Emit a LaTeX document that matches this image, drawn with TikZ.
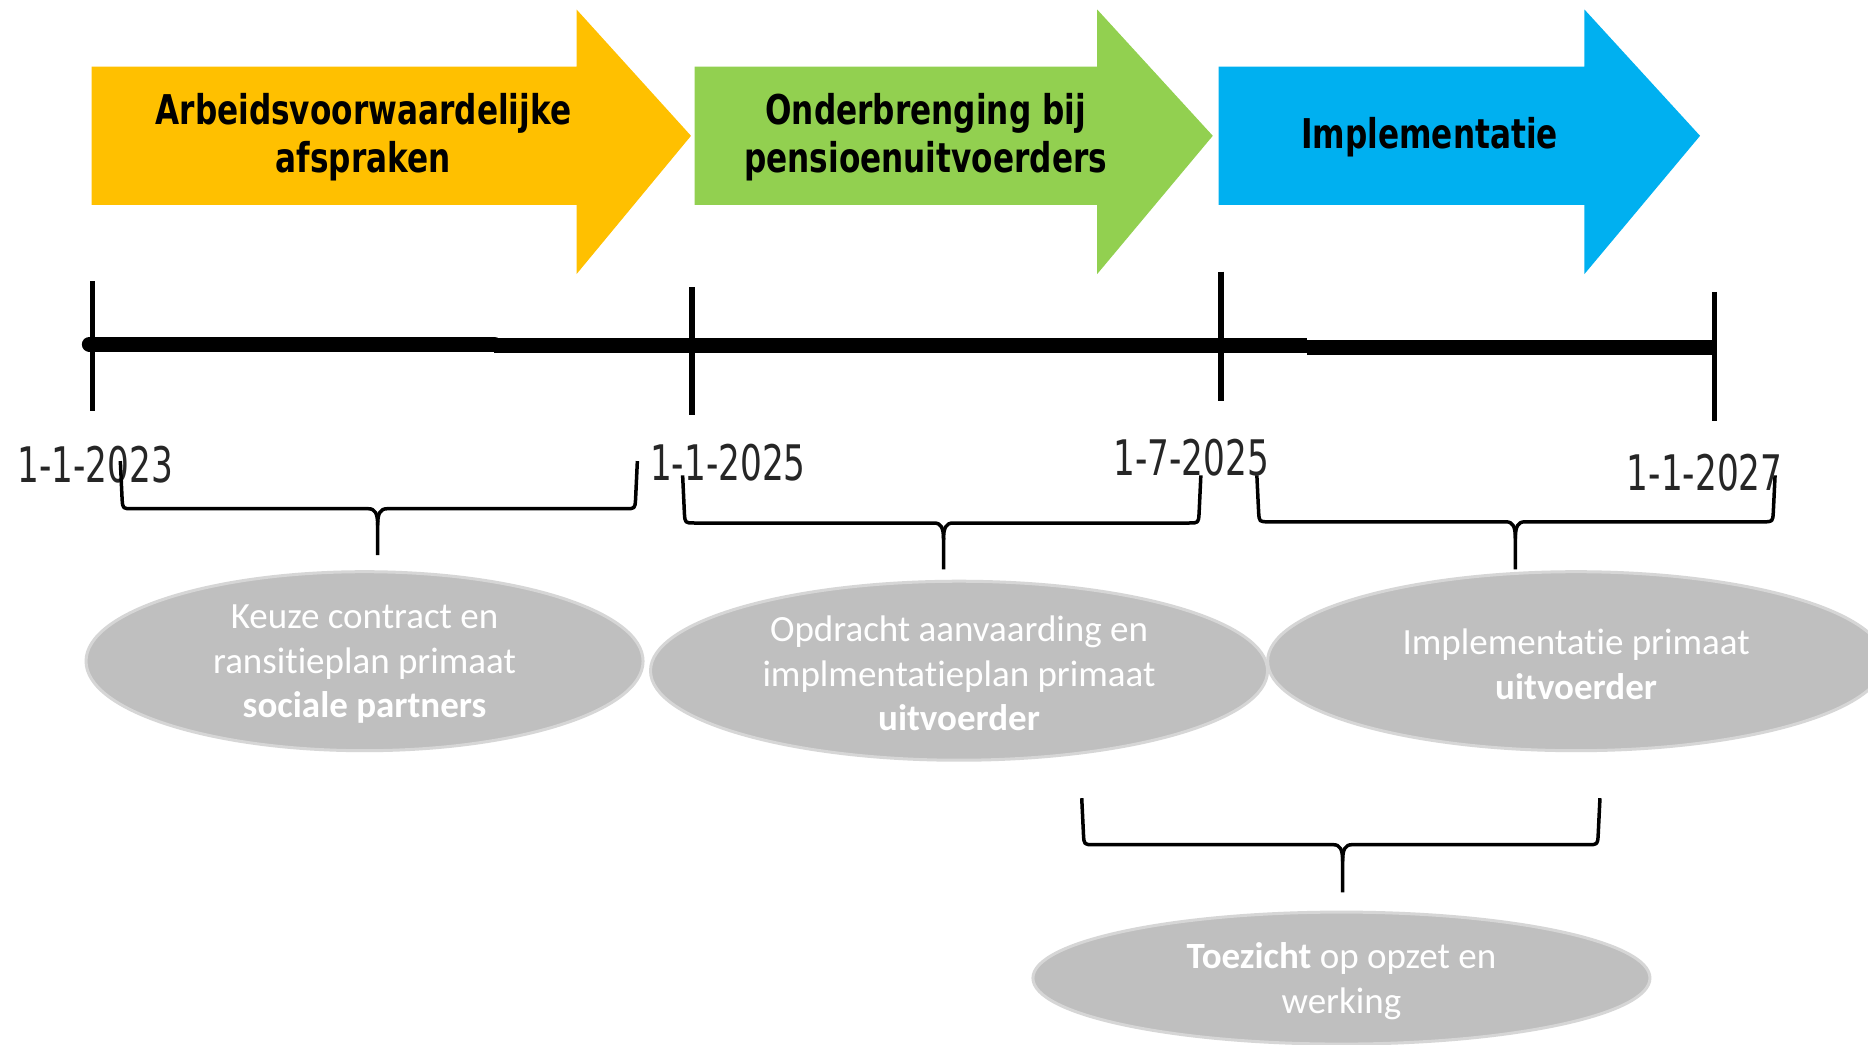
\documentclass[tikz,border=0pt]{standalone}
\usepackage{fontspec}
\setmainfont[Ligatures=NoCommon]{Carlito}
\newfontfamily\arrowfont[FakeStretch=0.76]{DejaVu Sans}
\newfontfamily\datefont[FakeStretch=0.70]{DejaVu Sans}
\usetikzlibrary{shapes.geometric}
\definecolor{cyellow}{HTML}{FFC000}
\definecolor{cgreen}{HTML}{92D050}
\definecolor{cblue}{HTML}{00B0F0}
\definecolor{cgray}{HTML}{BFBFBF}
\definecolor{cgrayedge}{HTML}{D6D6D6}
\definecolor{cdate}{HTML}{262626}
\newcommand\drawbrace[6]{%
  \draw[brace] (#1,#2) -- ({#1+1.5},{#3-8}) .. controls ({#1+2},{#3}) .. ({#1+10},{#3})
    -- ({#5-8},{#3}) .. controls ({#5-2},{#3}) and ({#5},{#3+4}) .. ({#5},{#3+14}) -- (#5,#6);
  \draw[brace] (#4,#2) -- ({#4-1.5},{#3-8}) .. controls ({#4-2},{#3}) .. ({#4-10},{#3})
    -- ({#5+8},{#3}) .. controls ({#5+2},{#3}) and ({#5},{#3+4}) .. ({#5},{#3+14});
}
\begin{document}
\begin{tikzpicture}[x=1.1913pt,y=-1.1913pt,
  phase/.style={inner sep=0pt, align=center, font=\arrowfont\bfseries\fontsize{41}{48}\selectfont, text=black},
  bubble/.style={ellipse, fill=cgray, draw=cgrayedge, line width=3pt, inner sep=0pt},
  bubbletext/.style={inner sep=0pt, align=center, text=white, font=\fontsize{37}{44.5}\selectfont},
  tickline/.style={line width=5.5pt},
  axisline/.style={line width=15pt},
  datelbl/.style={inner sep=0pt, font=\datefont\fontsize{49}{49}\selectfont, text=cdate},
  brace/.style={line width=3.5pt, line join=round}
]
\clip (0,0) rectangle (1568,877);
\fill[white] (0,0) rectangle (1568,877);
% phase arrows
\fill[cyellow] (77,56) -- (484,56) -- (484,8) -- (580,114) -- (484,230) -- (484,172) -- (77,172) -- cycle;
\node[phase] (p1) at (305,115) {Arbeidsvoorwaardelijke\\afspraken};
\fill[cgreen] (583,56) -- (921,56) -- (921,8) -- (1018,114) -- (921,230) -- (921,172) -- (583,172) -- cycle;
\node[phase] (p2) at (777,115) {Onderbrenging bij\\pensioenuitvoerders};
\fill[cblue] (1023,56) -- (1330,56) -- (1330,8) -- (1427,114) -- (1330,230) -- (1330,172) -- (1023,172) -- cycle;
\node[phase] (p3) at (1200,115) {Implementatie};
% timeline
\draw[axisline, line cap=round] (75,289) -- (415,289);
\draw[axisline] (415,290.2) -- (1097,290.2);
\draw[axisline] (1097,292.1) -- (1440,292.1);
\draw[tickline] (77.5,236) -- (77.5,345);
\draw[tickline] (581,241) -- (581,348);
\draw[tickline] (1025,228) -- (1025,337);
\draw[tickline] (1439,245) -- (1439,353);
\node[datelbl] (l1) at (80,390) {1-1-2023};
\node[datelbl] (l2) at (611,388) {1-1-2025};
\node[datelbl] (l3) at (1000,384) {1-7-2025};
\node[datelbl] (l4) at (1431,397) {1-1-2027};
% braces
\drawbrace{101}{387}{427}{535}{317}{466}
\drawbrace{573}{399}{439}{1008}{792}{478}
\drawbrace{1055}{399}{438}{1490}{1272}{478}
\drawbrace{908}{670}{709}{1343}{1127}{749}
% bubbles
\node[bubble, minimum width=557pt, minimum height=179pt] (e1) at (306,555) {};
\node[bubbletext] (e1t) at ([yshift=-3pt]e1.center) {Keuze contract en\\ransitieplan primaat\\\textbf{sociale partners}};
\node[bubble, minimum width=617pt, minimum height=179pt] (e2) at (805,563) {};
\node[bubbletext] (e2t) at ([yshift=-3pt]e2.center) {Opdracht aanvaarding en\\implmentatieplan primaat\\\textbf{uitvoerder}};
\node[bubble, minimum width=617pt, minimum height=179pt] (e3) at (1323,555) {};
\node[bubbletext] (e3t) at ([yshift=-3pt]e3.center) {Implementatie primaat\\\textbf{uitvoerder}};
\node[bubble, minimum width=617pt, minimum height=132pt] (e4) at (1126,821) {};
\node[bubbletext] (e4t) at ([yshift=-3pt]e4.center) {\textbf{Toezicht} op opzet en\\werking};
\end{tikzpicture}
\end{document}
